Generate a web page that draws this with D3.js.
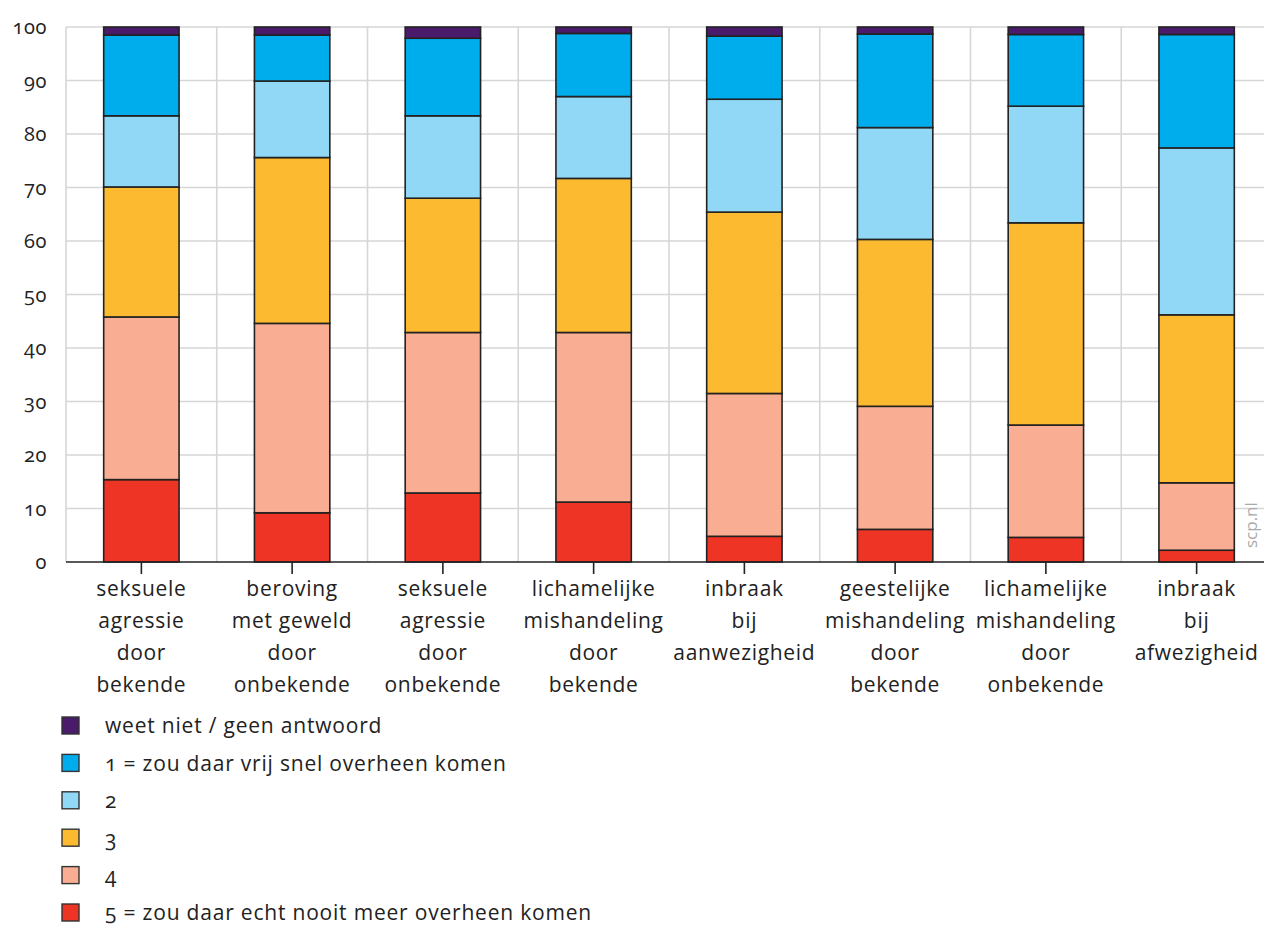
<!DOCTYPE html>
<html>
<head>
<meta charset="utf-8">
<script src="https://cdn.jsdelivr.net/npm/d3@7"></script>
<style>
  html, body { margin: 0; padding: 0; background: #fff; }
  svg { display: block; }
  text { font-family: "Open Sans", "Noto Sans", sans-serif; fill: #222; font-feature-settings: "onum" 1; }
</style>
</head>
<body>
<svg id="chart" width="1264" height="927"></svg>
<script>
// ---- data ----
const categories = [
  ["seksuele", "agressie", "door", "bekende"],
  ["beroving", "met geweld", "door", "onbekende"],
  ["seksuele", "agressie", "door", "onbekende"],
  ["lichamelijke", "mishandeling", "door", "bekende"],
  ["inbraak", "bij", "aanwezigheid"],
  ["geestelijke", "mishandeling", "door", "bekende"],
  ["lichamelijke", "mishandeling", "door", "onbekende"],
  ["inbraak", "bij", "afwezigheid"]
];
const seriesNames = [
  "5 = zou daar echt nooit meer overheen komen",
  "4",
  "3",
  "2",
  "1 = zou daar vrij snel overheen komen",
  "weet niet / geen antwoord"
];
const seriesColors = ["#ee3424", "#f9ae93", "#fcba30", "#90d8f6", "#00adec", "#4a1a6b"];
const s5 = [15.4, 9.2, 12.9, 11.2, 4.8, 6.1, 4.6, 2.2];
const s4 = [30.4, 35.4, 30.0, 31.7, 26.7, 23.0, 21.0, 12.6];
const s3 = [24.3, 31.0, 25.1, 28.8, 33.9, 31.2, 37.8, 31.4];
const s2 = [13.3, 14.3, 15.4, 15.3, 21.1, 20.9, 21.8, 31.2];
const s1 = [15.1, 8.6, 14.5, 11.8, 11.8, 17.5, 13.4, 21.2];
const sWeetNiet = [1.5, 1.5, 2.1, 1.2, 1.7, 1.3, 1.4, 1.4];
const yTicks = [0, 10, 20, 30, 40, 50, 60, 70, 80, 90, 100];

// ---- build table ----
const seriesValues = [s5, s4, s3, s2, s1, sWeetNiet];
const keys = seriesNames.map((_, i) => "k" + i);
const table = categories.map((c, j) => {
  const row = { id: j };
  keys.forEach((k, i) => row[k] = seriesValues[i][j]);
  const tot = d3.sum(keys, k => row[k]);
  keys.forEach(k => row[k] = row[k] * 100 / tot);
  return row;
});
const stacked = d3.stack().keys(keys)(table);

// ---- layout ----
const svg = d3.select("#chart");
const W = 1264;
const plotLeft = 66, plotRight = 1272, plotTop = 27, plotBottom = 562;

const x = d3.scaleBand().domain(d3.range(categories.length))
  .range([plotLeft, plotRight]).paddingInner(0.5).paddingOuter(0.25);
const y = d3.scaleLinear().domain([0, 100]).range([plotBottom, plotTop]);

const grid = svg.append("g");
grid.selectAll("line.h").data(yTicks.filter(d => d > 0)).join("line")
  .attr("x1", plotLeft).attr("x2", W)
  .attr("y1", d => y(d)).attr("y2", d => y(d))
  .attr("stroke", "#d6d6d6").attr("stroke-width", 1.6);
const step = x.step();
const bounds = d3.range(categories.length + 1).map(i => plotLeft + i * step);
grid.selectAll("line.v").data(bounds.filter(b => b <= W)).join("line")
  .attr("x1", d => d).attr("x2", d => d)
  .attr("y1", plotTop).attr("y2", plotBottom)
  .attr("stroke", "#d6d6d6").attr("stroke-width", 1.6);

// y labels
svg.append("g").selectAll("text").data(yTicks).join("text")
  .attr("x", 47).attr("y", d => y(d))
  .attr("dy", "0.35em")
  .attr("text-anchor", "end")
  .attr("font-size", 20)
  .attr("letter-spacing", 0.6)
  .text(d => d);

// bars
svg.append("g").selectAll("g").data(stacked).join("g")
  .attr("fill", (d, i) => seriesColors[i])
  .selectAll("rect").data(d => d).join("rect")
  .attr("x", (d, j) => x(j))
  .attr("width", x.bandwidth())
  .attr("y", d => y(d[1]))
  .attr("height", d => y(d[0]) - y(d[1]))
  .attr("stroke", "#222")
  .attr("stroke-width", 1.6);

// x axis
const xAxis = svg.append("g");
xAxis.append("line")
  .attr("x1", plotLeft).attr("x2", W)
  .attr("y1", plotBottom).attr("y2", plotBottom)
  .attr("stroke", "#222").attr("stroke-width", 1.6);
xAxis.selectAll("line.tick").data(d3.range(categories.length)).join("line")
  .attr("class", "tick")
  .attr("x1", d => x(d) + x.bandwidth() / 2).attr("x2", d => x(d) + x.bandwidth() / 2)
  .attr("y1", plotBottom).attr("y2", plotBottom + 12)
  .attr("stroke", "#222").attr("stroke-width", 1.6);
const lbl = xAxis.selectAll("text.lbl").data(categories).join("text")
  .attr("class", "lbl")
  .attr("text-anchor", "middle")
  .attr("font-size", 21)
  .attr("letter-spacing", 0.7);
lbl.selectAll("tspan").data((d, j) => d.map(t => ({ t, j }))).join("tspan")
  .attr("x", d => x(d.j) + x.bandwidth() / 2)
  .attr("y", (d, i) => 596 + i * 32)
  .text(d => d.t);

// legend (top to bottom: weet niet ... 5)
const legendOrder = d3.range(seriesNames.length).reverse();
const lg = svg.append("g").selectAll("g").data(legendOrder).join("g")
  .attr("transform", (d, i) => `translate(62, ${726 + i * 37.4})`);
lg.append("rect")
  .attr("x", 0).attr("y", -9).attr("width", 17).attr("height", 17)
  .attr("fill", d => seriesColors[d]).attr("stroke", "#333").attr("stroke-width", 1.4);
lg.append("text")
  .attr("x", 43).attr("y", 0).attr("dy", "0.35em")
  .attr("font-size", 21)
  .attr("letter-spacing", 0.8)
  .text(d => seriesNames[d]);

// watermark
svg.append("text")
  .attr("transform", "translate(1257, 548) rotate(-90)")
  .attr("font-size", 17)
  .style("fill", "#aaa")
  .text("scp.nl");
</script>
</body>
</html>
